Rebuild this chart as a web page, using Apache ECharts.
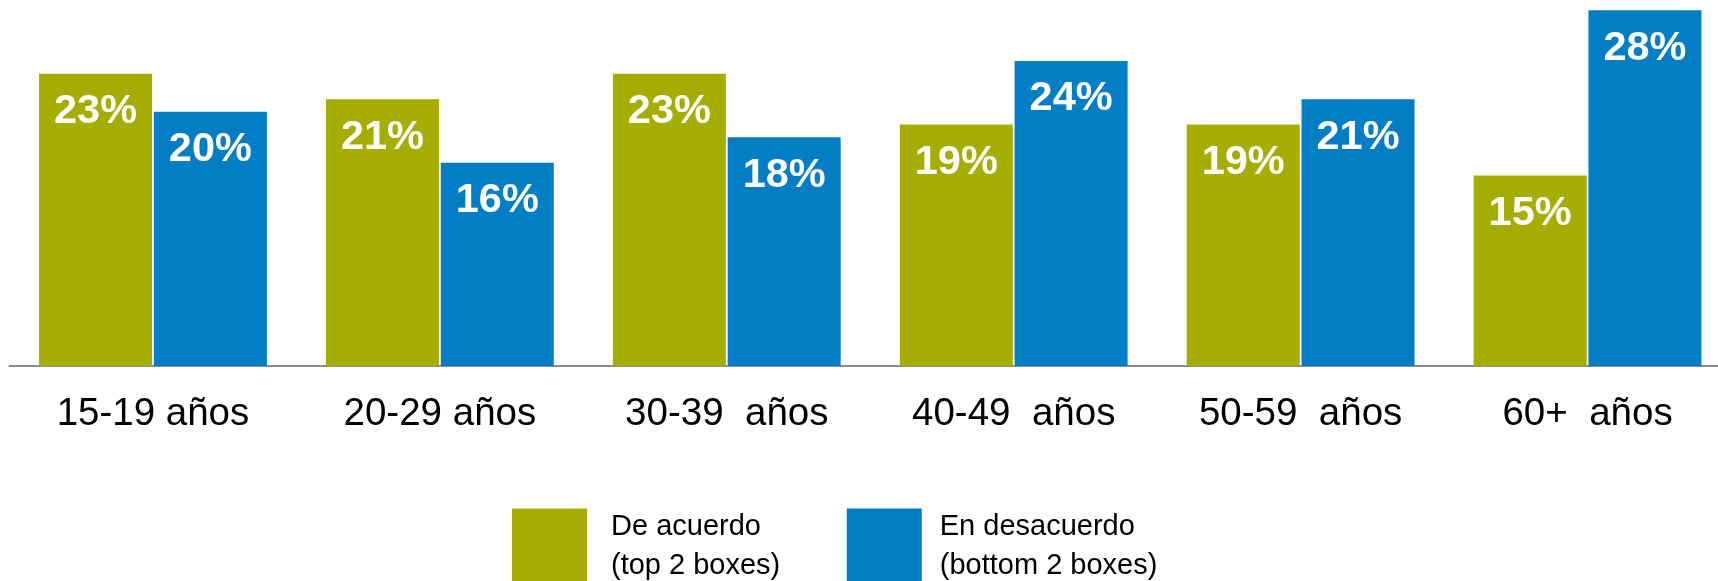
<!DOCTYPE html>
<html>
<head>
<meta charset="utf-8">
<script src="https://cdn.jsdelivr.net/npm/echarts@6/dist/echarts.min.js"></script>
<style>
html,body{margin:0;padding:0;background:#fff;overflow:hidden;width:1718px;height:581px;}
#chart{width:1731px;height:581px;}
</style>
</head>
<body>
<div id="chart"></div>
<script>
const categories = ['15-19 años', '20-29 años', '30-39  años', '40-49  años', '50-59  años', '60+  años'];
const seriesNames = ['De acuerdo\n(top 2 boxes)', 'En desacuerdo\n(bottom 2 boxes)'];
const deAcuerdo = [23, 21, 23, 19, 19, 15];
const enDesacuerdo = [20, 16, 18, 24, 21, 28];

const FONT = '"Liberation Sans", Arial, sans-serif';
const chart = echarts.init(document.getElementById('chart'));
const labelCfg = {
  show: true,
  position: 'insideTop',
  distance: 17,
  color: '#fff',
  fontWeight: 'bold',
  fontSize: 41.5,
  fontFamily: FONT,
  formatter: p => p.value + '%'
};
chart.setOption({
  animation: false,
  grid: { left: 9.5, right: 0, top: 0, bottom: 215, containLabel: false },
  legend: {
    left: 512,
    top: 507,
    padding: 0,
    itemWidth: 75,
    itemHeight: 75,
    itemGap: 66.5,
    icon: 'rect',
    selectedMode: false,
    textStyle: { fontSize: 29, lineHeight: 39, color: '#000', fontFamily: FONT },
    data: [
      { name: seriesNames[0], textStyle: { padding: [0, 0, 0, 19] } },
      { name: seriesNames[1], textStyle: { padding: [0, 0, 0, 13] } }
    ]
  },
  xAxis: {
    type: 'category',
    data: categories,
    axisLine: { lineStyle: { color: '#8c8c8c', width: 2 } },
    axisTick: { show: false },
    axisLabel: { fontSize: 38.5, color: '#000', fontFamily: FONT, margin: 29 }
  },
  yAxis: {
    type: 'value',
    min: 0,
    max: 28.8,
    show: false,
    splitLine: { show: false }
  },
  series: [
    {
      name: seriesNames[0],
      type: 'bar',
      data: deAcuerdo,
      barWidth: 113,
      barGap: '1.6%',
      itemStyle: { color: '#A5AE00' },
      label: labelCfg
    },
    {
      name: seriesNames[1],
      type: 'bar',
      data: enDesacuerdo,
      barWidth: 113,
      barGap: '1.6%',
      itemStyle: { color: '#037DC4' },
      label: labelCfg
    }
  ]
});
</script>
</body>
</html>
